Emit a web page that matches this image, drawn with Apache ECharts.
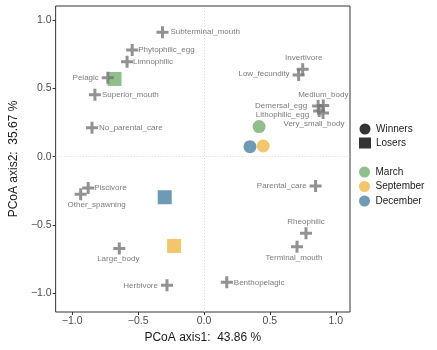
<!DOCTYPE html>
<html>
<head>
<meta charset="utf-8">
<script src="https://cdn.jsdelivr.net/npm/echarts@6/dist/echarts.min.js"></script>
<style>
  html, body { margin: 0; padding: 0; background: #fff; }
  #main { width: 437px; height: 350px; }
</style>
</head>
<body>
<div id="main"></div>
<script>
// trait scores (crosses)
var traitNames = ['Subterminal_mouth', 'Phytophilic_egg', 'Limnophilic', 'Pelagic', 'Superior_mouth',
  'No_parental_care', 'Invertivore', 'Low_fecundity', 'Medium_body', 'Demersal_egg', 'Lithophilic_egg',
  'Very_small_body', 'Parental_care', 'Rheophilic', 'Terminal_mouth', 'Benthopelagic', 'Herbivore',
  'Large_body', 'Piscivore', 'Other_spawning']
var traitX = [-0.315, -0.545, -0.584, -0.730, -0.828, -0.850, 0.749, 0.718, 0.905, 0.866, 0.874,
  0.903, 0.847, 0.774, 0.706, 0.173, -0.281, -0.643, -0.879, -0.936]
var traitY = [0.911, 0.781, 0.695, 0.578, 0.454, 0.212, 0.640, 0.598, 0.375, 0.371, 0.334,
  0.320, -0.215, -0.561, -0.659, -0.920, -0.942, -0.673, -0.229, -0.275]

// site scores per month
var months = ['March', 'September', 'December']
var winnersX = [0.418, 0.449, 0.349]
var winnersY = [0.220, 0.078, 0.073]
var losersX = [-0.679, -0.227, -0.298]
var losersY = [0.569, -0.654, -0.297]

var monthColors = { March: '#8FC08C', September: '#F3C66C', December: '#6E9AB4' }

// 标签位置 (ggrepel 的效果手动摆放)
var labelPlace = {
  Subterminal_mouth: ['right', [0, 0]],
  Phytophilic_egg: ['right', [-2, 0]],
  Limnophilic: ['right', [-2, 0]],
  Pelagic: ['left', [-1, 0]],
  Superior_mouth: ['right', [-1, 0]],
  No_parental_care: ['right', [-1, 0]],
  Invertivore: ['top', [1, 1]],
  Low_fecundity: ['left', [-1, -1]],
  Medium_body: ['top', [0, 1]],
  Demersal_egg: ['left', [-3, 0]],
  Lithophilic_egg: ['left', [-2, 4]],
  Very_small_body: ['bottom', [-9, -1]],
  Parental_care: ['left', [-1, 0]],
  Rheophilic: ['top', [0, 0]],
  Terminal_mouth: ['bottom', [-3, -1]],
  Benthopelagic: ['right', [-1, 0]],
  Herbivore: ['left', [-1, 0]],
  Large_body: ['bottom', [-1, -2]],
  Piscivore: ['right', [-2, 0]],
  Other_spawning: ['bottom', [16, -1]]
}

var chart = echarts.init(document.getElementById('main'))

var traitData = traitNames.map(function (n, i) {
  var p = labelPlace[n]
  return {
    name: n,
    value: [traitX[i], traitY[i]],
    label: { position: p[0], offset: p[1] }
  }
})

var series = []
months.forEach(function (m, i) {
  series.push({
    name: m,
    type: 'scatter',
    symbol: 'circle',
    itemStyle: { color: monthColors[m], opacity: 1 },
    z: 2,
    data: [
      { value: [winnersX[i], winnersY[i]], symbol: 'circle', symbolSize: 13 },
      { value: [losersX[i], losersY[i]], symbol: 'rect', symbolSize: 14 }
    ]
  })
})
// 图例用的空系列
series.push({ name: 'Winners', type: 'scatter', symbol: 'circle', itemStyle: { color: '#000' }, data: [] })
series.push({ name: 'Losers', type: 'scatter', symbol: 'rect', itemStyle: { color: '#000' }, data: [] })
series.push({
  name: 'traits',
  type: 'scatter',
  symbol: 'path://M3,0H5V3H8V5H5V8H3V5H0V3H3Z',
  symbolSize: 12,
  z: 5,
  itemStyle: { color: '#777777' },
  label: {
    show: true,
    formatter: '{b}',
    fontSize: 8,
    color: '#5a5a5a',
    fontFamily: 'Liberation Sans, Arial, sans-serif',
    distance: 2
  },
  markLine: {
    silent: true,
    symbol: 'none',
    label: { show: false },
    lineStyle: { color: '#d9d9d9', type: [1, 2], width: 1 },
    data: [{ xAxis: 0 }, { yAxis: 0 }]
  },
  data: traitData
})

var ticks = [-1, -0.5, 0, 0.5, 1]
function fmt(v) {
  return v.toFixed(1).replace('-', '\u2212')
}

chart.setOption({
  animation: false,
  textStyle: { fontFamily: 'Liberation Sans, Arial, sans-serif' },
  grid: {
    left: 45, right: 87, top: 6, bottom: 38,
    show: true, borderColor: '#333', borderWidth: 1
  },
  legend: [
    {
      data: [{ name: 'Winners', icon: 'circle' }, { name: 'Losers', icon: 'rect' }],
      orient: 'vertical', left: 359, top: 123.5, padding: 0,
      itemWidth: 12, itemHeight: 11, itemGap: 3,
      textStyle: { fontSize: 10, color: '#1a1a1a' }
    },
    {
      data: [{ name: 'March', icon: 'circle' }, { name: 'September', icon: 'circle' }, { name: 'December', icon: 'circle' }],
      orient: 'vertical', left: 359, top: 166.5, padding: 0,
      itemWidth: 12, itemHeight: 11, itemGap: 3.5,
      textStyle: { fontSize: 10, color: '#1a1a1a' }
    }
  ],
  xAxis: {
    type: 'value',
    min: -1.126, max: 1.108,
    name: 'PCoA axis1:  43.86 %',
    nameLocation: 'middle',
    nameGap: 16,
    nameTextStyle: { fontSize: 12, color: '#1a1a1a' },
    axisLine: { show: false, onZero: false },
    axisTick: { show: true, customValues: ticks, length: 3, lineStyle: { color: '#333' } },
    axisLabel: { customValues: ticks, formatter: fmt, fontSize: 10.5, color: '#4d4d4d', margin: 4 },
    splitLine: { show: false }
  },
  yAxis: {
    type: 'value',
    min: -1.137, max: 1.103,
    name: 'PCoA axis2:  35.67 %',
    nameLocation: 'middle',
    nameGap: 30,
    nameTextStyle: { fontSize: 12, color: '#1a1a1a' },
    axisLine: { show: false, onZero: false },
    axisTick: { show: true, customValues: ticks, length: 3, lineStyle: { color: '#333' } },
    axisLabel: { customValues: ticks, formatter: fmt, fontSize: 10.5, color: '#4d4d4d', margin: 4 },
    splitLine: { show: false }
  },
  series: series
})
</script>
</body>
</html>
